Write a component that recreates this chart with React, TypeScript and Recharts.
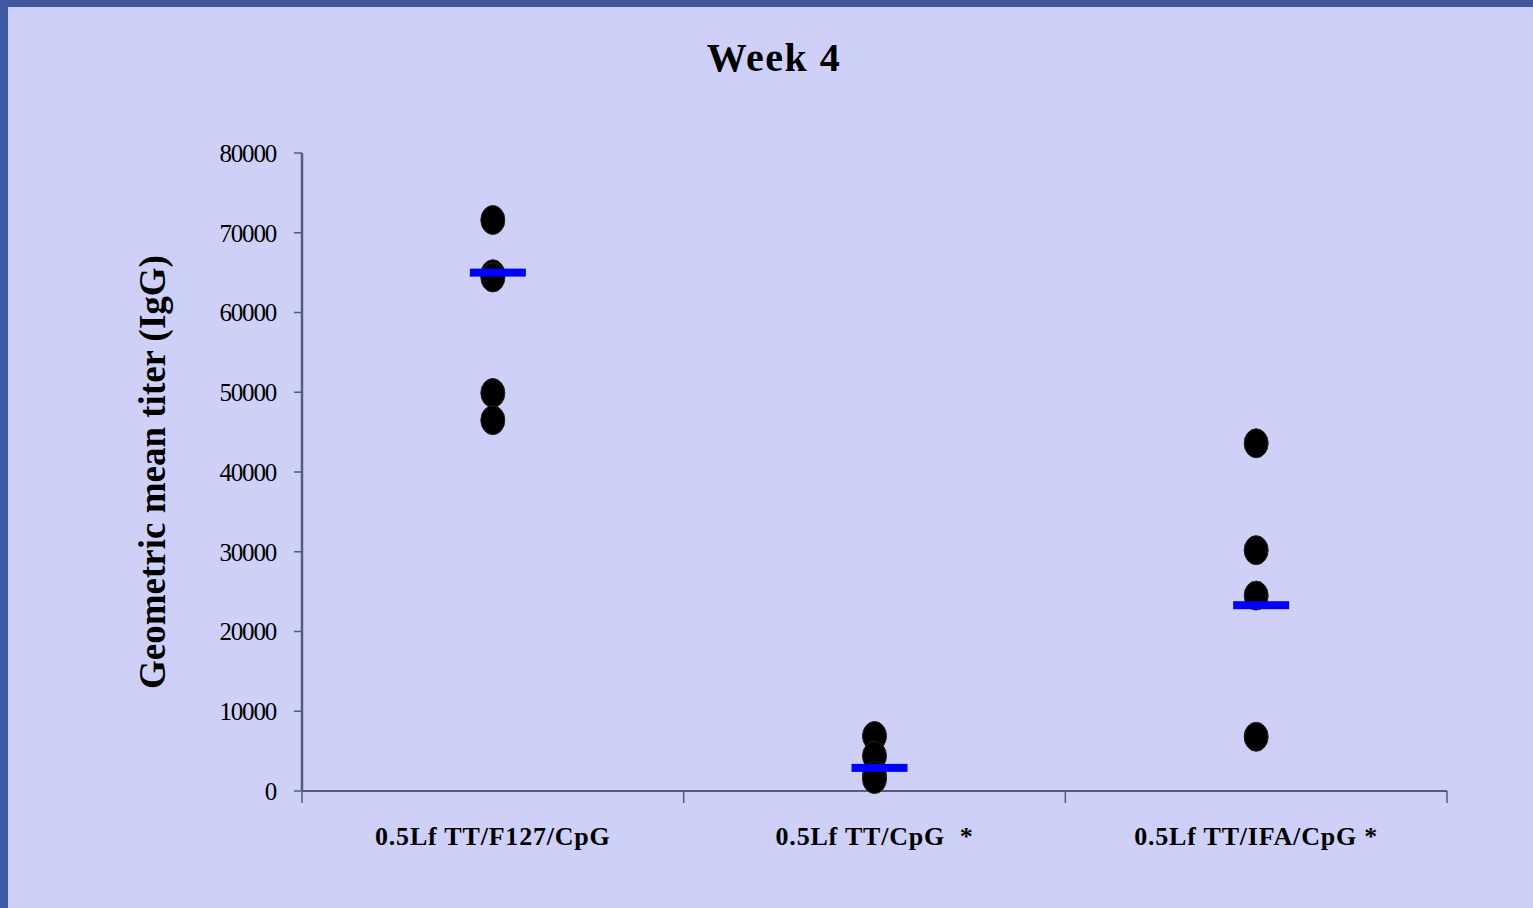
import React from 'react';
import { ScatterChart, Scatter, XAxis, YAxis, Label } from 'recharts';

const groups = ['0.5Lf TT/F127/CpG', '0.5Lf TT/CpG \u00a0*', '0.5Lf TT/IFA/CpG *'];
const groupPos = [0.5, 1.5, 2.5];

const f127Titers = [71600, 64800, 64400, 49900, 46500];
const cpgTiters = [6900, 4400, 1900, 1500];
const ifaTiters = [43600, 30200, 24500, 6800];
const meanTiters = [65000, 2900, 23300];

const yTicks = [0, 10000, 20000, 30000, 40000, 50000, 60000, 70000, 80000];
const bandEdges = [0, 1, 2, 3];
const xTicks = [0, 0.5, 1, 1.5, 2, 2.5, 3];

const pointData = [
  ...f127Titers.map((v) => ({ x: groupPos[0], y: v })),
  ...cpgTiters.map((v) => ({ x: groupPos[1], y: v })),
  ...ifaTiters.map((v) => ({ x: groupPos[2], y: v }))
];
const meanData = meanTiters.map((v, i) => ({ x: groupPos[i], y: v }));

const serif = '"Liberation Serif", "Times New Roman", serif';
const axisColor = '#5a5a78';

const Dot = (p: any) => <ellipse cx={p.cx} cy={p.cy} rx={12} ry={14.5} fill="#000" stroke="#222" strokeWidth={1} />;
const MeanBar = (p: any) => <rect x={p.cx - 23} y={p.cy - 4} width={56} height={8} fill="#0000ff" />;

// edges of each group band get a tick mark, band centres get the group name
const XTick = (p: any) => {
  const v = p.payload.value;
  if (bandEdges.includes(v)) {
    return <line x1={p.x} x2={p.x} y1={p.y} y2={p.y + 12} stroke={axisColor} strokeWidth={1.5} />;
  }
  const idx = groupPos.indexOf(v);
  return (
    <text x={p.x} y={p.y + 54} textAnchor="middle" fontFamily={serif} fontWeight="bold" fontSize={26} letterSpacing={0.8} fill="#000">
      {groups[idx]}
    </text>
  );
};

export default function App() {
  return (
    <div style={{ position: 'absolute', left: 0, top: 0, width: 1533, height: 908, background: '#3f58a0', overflow: 'hidden' }}>
      <div style={{ position: 'absolute', left: 8, top: 7, right: 0, bottom: 0, background: '#cfd0f8' }} />
      <div style={{ position: 'absolute', left: 0, top: 0 }}>
        <ScatterChart width={1533} height={908} margin={{ top: 153, right: 86, bottom: 57, left: 202 }}>
          <text x={774} y={71} textAnchor="middle" fontFamily={serif} fontWeight="bold" fontSize={40} letterSpacing={1.5} fill="#000">
            Week 4
          </text>
          <XAxis
            type="number"
            dataKey="x"
            domain={[0, 3]}
            ticks={xTicks}
            interval={0}
            tick={<XTick />}
            tickSize={0}
            tickMargin={0}
            tickLine={false}
            axisLine={{ stroke: axisColor, strokeWidth: 2 }}
            height={60}
          />
          <YAxis
            type="number"
            dataKey="y"
            domain={[0, 80000]}
            ticks={yTicks}
            interval={0}
            width={100}
            tickSize={8}
            tickMargin={18}
            axisLine={{ stroke: axisColor, strokeWidth: 2.5 }}
            tickLine={{ stroke: axisColor, strokeWidth: 1.5 }}
            tick={{ fontFamily: serif, fontSize: 25, fill: '#000', letterSpacing: -1.2 }}
          >
            <Label
              content={(props: any) => {
                const vb = props.viewBox;
                const cx = vb.x - 50;
                const cy = vb.y + vb.height / 2;
                return (
                  <text x={cx} y={cy} transform={`rotate(-90 ${cx} ${cy})`} textAnchor="middle" dominantBaseline="central" fontFamily={serif} fontWeight="bold" fontSize={37} fill="#000">
                    Geometric mean titer (IgG)
                  </text>
                );
              }}
            />
          </YAxis>
          <Scatter data={pointData} shape={<Dot />} isAnimationActive={false} />
          <Scatter data={meanData} shape={<MeanBar />} isAnimationActive={false} />
        </ScatterChart>
      </div>
    </div>
  );
}
